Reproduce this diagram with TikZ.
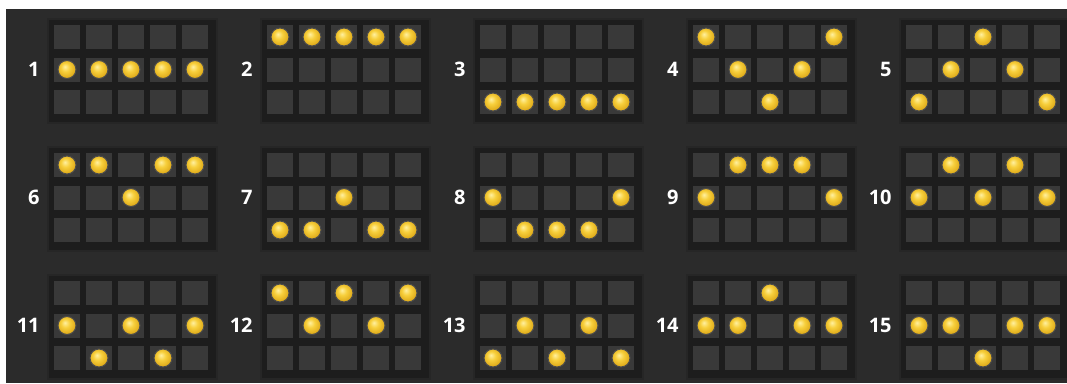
\documentclass[tikz,border=0pt]{standalone}
\usepackage{fontspec}
\setsansfont{Open Sans}
\usetikzlibrary{positioning}

\definecolor{bgcol}{HTML}{2B2B2B}
\definecolor{panelcol}{HTML}{1D1D1D}
\definecolor{cellcol}{HTML}{393939}
\definecolor{goldhi}{HTML}{FFF0A0}
\definecolor{gold}{HTML}{F7CF3C}
\definecolor{golddk}{HTML}{D9A212}
\definecolor{goldrim}{HTML}{7A5508}

\pgfdeclareradialshading{golddot}{\pgfpoint{-6bp}{8bp}}{%
  color(0bp)=(goldhi); color(12bp)=(gold); color(30bp)=(golddk); color(50bp)=(goldrim)}

\tikzset{
  panel/.style={draw=black!85,line width=2pt,fill=panelcol,minimum width=169pt,minimum height=104pt,inner sep=0pt},
  cell/.style={fill=cellcol,minimum width=26pt,minimum height=24pt,inner sep=0pt},
  dot/.style={circle,shading=golddot,draw=black!70,line width=1pt,minimum size=18pt,inner sep=0pt},
  linenum/.style={text=white,font=\sffamily\bfseries\fontsize{20}{20}\selectfont,inner sep=0pt,anchor=east}
}

\begin{document}
\begin{tikzpicture}[x=1pt,y=-1pt]
\useasboundingbox (0,0) rectangle (1067,383);
\fill[white] (0,0) rectangle (1067,383);
\fill[bgcol] (6,9) rectangle (1067,383);
% one panel per payline: label / row of the dot in each reel
\foreach \lbl/\ra/\rb/\rc/\rd/\re[count=\i from 0] in {
  1/1/1/1/1/1, 2/0/0/0/0/0, 3/2/2/2/2/2, 4/0/1/2/1/0, 5/2/1/0/1/2,
  6/0/0/1/0/0, 7/2/2/1/2/2, 8/1/2/2/2/1, 9/1/0/0/0/1, 10/1/0/1/0/1,
  11/1/2/1/2/1, 12/0/1/0/1/0, 13/2/1/2/1/2, 14/1/1/0/1/1, 15/1/1/2/1/1%
}{
  \pgfmathsetmacro\gx{67+213*mod(\i,5)}
  \pgfmathsetmacro\gy{37+128*floor(\i/5)}
  \node[panel](p\lbl) at (\gx+65.5,\gy+33.5){};
  \foreach \c in {0,...,4}
    \foreach \r in {0,1,2}
      \node[cell](c\lbl-\c-\r) at (\gx+32*\c,\gy+32.5*\r){};
  \node[linenum,left=14pt of c\lbl-0-1](n\lbl){\lbl};
  \foreach \r[count=\c from 0] in {\ra,\rb,\rc,\rd,\re}
    \node[dot](d\lbl-\c) at (c\lbl-\c-\r){};
}
\end{tikzpicture}
\end{document}
